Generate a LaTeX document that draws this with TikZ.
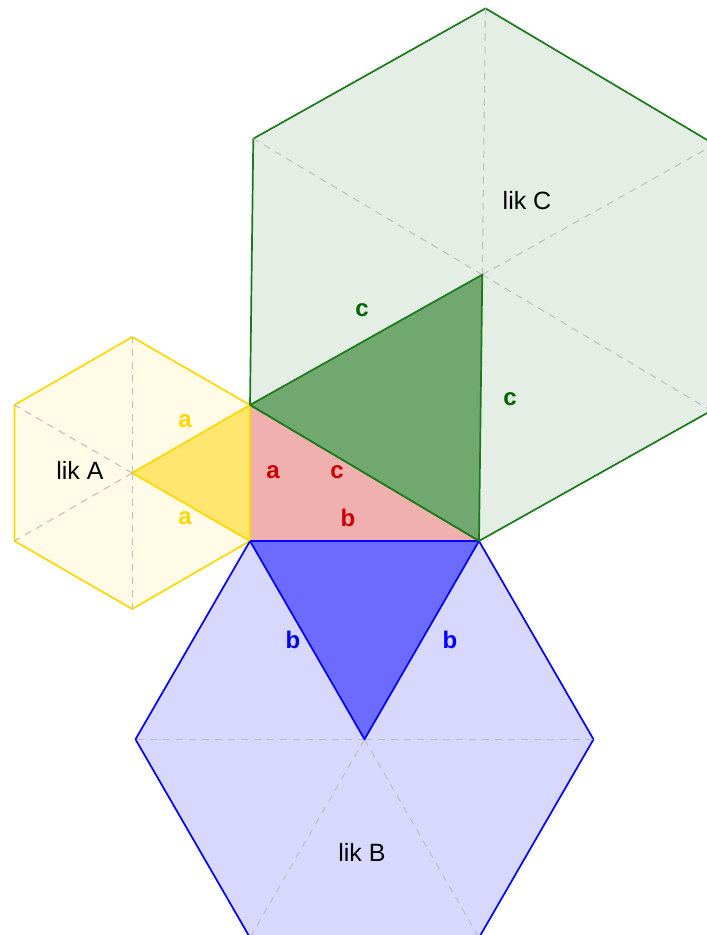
\documentclass[tikz,border=0pt]{standalone}
\usepackage{fontspec}
\setmainfont{Liberation Sans}
\begin{document}
\begin{tikzpicture}[x=1pt,y=-1pt,
  hexy/.style={draw=yellowline,fill=yellowlight,line width=1.7pt,line join=round},
  hexb/.style={draw=blueline,fill=bluelight,line width=1.7pt,line join=round},
  hexg/.style={draw=greenline,fill=greenlight,line width=1.7pt,line join=round},
  dsh/.style={draw=dashgray,line width=1pt,dash pattern=on 7pt off 6pt},
  lik/.style={font=\fontsize{25}{28}\selectfont,text=black},
  lbl/.style={font=\fontsize{24}{27}\selectfont\bfseries,inner sep=0pt}
]
\definecolor{yellowline}{HTML}{FFD700}
\definecolor{yellowlight}{HTML}{FFFBE6}
\definecolor{yellowdark}{HTML}{FFE66E}
\definecolor{blueline}{HTML}{0000FF}
\definecolor{bluelight}{HTML}{D8D8FF}
\definecolor{bluedark}{HTML}{6B6BFF}
\definecolor{greenline}{HTML}{1A7A1A}
\definecolor{greenlight}{HTML}{E4EEE4}
\definecolor{greendark}{HTML}{70A870}
\definecolor{pinkfill}{HTML}{F0B0B0}
\definecolor{redtext}{HTML}{CC0000}
\definecolor{greentext}{HTML}{006400}
\definecolor{dashgray}{HTML}{BEBEBE}
\useasboundingbox (0,0) rectangle (707,935);
\clip (0,0) rectangle (707,935);
% triangle
\coordinate (P1) at (250,405);
\coordinate (P2) at (250,541);
\coordinate (P3) at (479,541);
% hexagon A
\coordinate (CA) at (132.22,473);
\coordinate (A3) at (132.22,609);
\coordinate (A4) at (14.44,541);
\coordinate (A5) at (14.44,405);
\coordinate (A6) at (132.22,337);
% hexagon B
\coordinate (CB) at (364.5,739.32);
\coordinate (B3) at (593.5,739.32);
\coordinate (B4) at (479,937.64);
\coordinate (B5) at (250,937.64);
\coordinate (B6) at (135.5,739.32);
% hexagon C
\coordinate (CC) at (482.28,274.68);
\coordinate (C3) at (711.28,410.68);
\coordinate (C4) at (714.56,144.36);
\coordinate (C5) at (485.56,8.36);
\coordinate (C6) at (253.28,138.68);
% light hexagons
\path[hexy] (P1) -- (P2) -- (A3) -- (A4) -- (A5) -- (A6) -- cycle;
\path[hexb] (P2) -- (P3) -- (B3) -- (B4) -- (B5) -- (B6) -- cycle;
\path[hexg] (P1) -- (P3) -- (C3) -- (C4) -- (C5) -- (C6) -- cycle;
% dashed spokes
\foreach \v in {A3,A4,A5,A6} \draw[dsh] (CA) -- (\v);
\foreach \v in {B3,B4,B5,B6} \draw[dsh] (CB) -- (\v);
\foreach \v in {C3,C4,C5,C6} \draw[dsh] (CC) -- (\v);
% dark triangles
\path[draw=yellowline,fill=yellowdark,line width=1.7pt,line join=round] (P1) -- (P2) -- (CA) -- cycle;
\path[draw=blueline,fill=bluedark,line width=1.7pt,line join=round] (P2) -- (P3) -- (CB) -- cycle;
\path[draw=greenline,fill=greendark,line width=1.7pt,line join=round] (P1) -- (P3) -- (CC) -- cycle;
% right triangle
\fill[pinkfill] (P1) -- (P2) -- (P3) -- cycle;
\draw[yellowline,line width=1.7pt] (P1) -- (P2);
\draw[blueline,line width=1.7pt] (P2) -- (P3);
\draw[greenline,line width=1.7pt] (P1) -- (P3);
% names
\node[lik] (lA) at (80,470) {lik A};
\node[lik] (lB) at (362,852) {lik B};
\node[lik] (lC) at (527,201) {lik C};
% side labels
\node[lbl,text=yellowline] (ya1) at (185,421) {a};
\node[lbl,text=yellowline] (ya2) at (185,518) {a};
\node[lbl,text=redtext] (ra) at (273,472) {a};
\node[lbl,text=redtext] (rc) at (337,472) {c};
\node[lbl,text=redtext] (rb) at (348,518) {b};
\node[lbl,text=blueline] (bb1) at (293,640) {b};
\node[lbl,text=blueline] (bb2) at (450,640) {b};
\node[lbl,text=greentext] (gc1) at (362,310) {c};
\node[lbl,text=greentext] (gc2) at (510,399) {c};
\end{tikzpicture}
\end{document}
